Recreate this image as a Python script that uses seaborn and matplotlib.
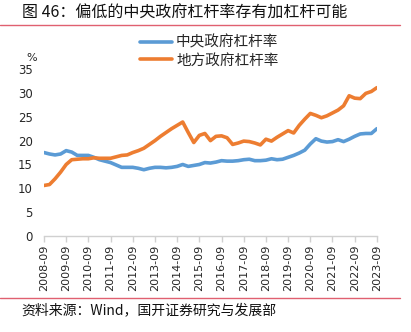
import numpy as np
import pandas as pd
import matplotlib
matplotlib.use("Agg")
import matplotlib.pyplot as plt
import seaborn as sns
from matplotlib.lines import Line2D

sns.set_style("white")
plt.rcParams['font.family'] = ['Noto Sans CJK SC', 'DejaVu Sans']

years = list(range(2008, 2024))
quarters = []
for y in range(2008, 2024):
    for m in ["03", "06", "09", "12"]:
        quarters.append(f"{y}-{m}")
quarters = quarters[quarters.index("2008-09"):quarters.index("2023-09") + 1]
tick_labels = [f"{y}-09" for y in years]

central = [17.5, 17.2, 17.0, 17.2, 17.9, 17.6, 16.9, 16.9, 16.9, 16.5,
           16.0, 15.7, 15.4, 14.9, 14.4, 14.4, 14.4, 14.2, 13.9, 14.2,
           14.4, 14.4, 14.3, 14.4, 14.6, 15.0, 14.6, 14.8, 15.0, 15.4,
           15.3, 15.5, 15.8, 15.7, 15.7, 15.8, 16.0, 16.1, 15.8, 15.8,
           15.9, 16.2, 16.0, 16.1, 16.5, 16.9, 17.4, 18.0, 19.3, 20.4,
           19.9, 19.7, 19.8, 20.2, 19.8, 20.3, 20.9, 21.4, 21.5, 21.5,
           22.5]
local = [10.6, 10.8, 12.0, 13.4, 15.0, 16.0, 16.1, 16.2, 16.2, 16.4,
         16.3, 16.3, 16.3, 16.6, 16.9, 17.0, 17.5, 17.9, 18.4, 19.2,
         20.0, 20.9, 21.7, 22.5, 23.2, 23.9, 21.7, 19.6, 21.1, 21.5,
         20.0, 20.9, 21.0, 20.6, 19.2, 19.5, 19.9, 19.8, 19.5, 19.1,
         20.3, 19.9, 20.7, 21.4, 22.1, 21.6, 23.2, 24.5, 25.7, 25.3,
         24.8, 25.2, 25.8, 26.4, 27.3, 29.4, 28.9, 28.8, 29.9, 30.3,
         31.1]
series_names = ["中央政府杠杆率", "地方政府杠杆率"]
colors = ["#5B9BD5", "#ED7D31"]

n = len(quarters)
df = pd.DataFrame({
    "idx": list(range(n)) * 2,
    "value": central + local,
    "series": [series_names[0]] * n + [series_names[1]] * n,
})

fig = plt.figure(figsize=(4.11, 3.32), dpi=100)
ax = fig.add_axes([0.107, 0.289, 0.81, 0.503])
sns.lineplot(data=df, x="idx", y="value", hue="series", palette=colors,
             linewidth=2.6, ax=ax, legend=False)

ax.set_xlim(0, n - 1)
ax.set_ylim(0, 35)
ax.set_yticks(range(0, 36, 5))
ax.set_xticks([quarters.index(t) for t in tick_labels])
ax.set_xticklabels(tick_labels, rotation=90, fontsize=8, family='DejaVu Sans')
ax.set_yticklabels([str(v) for v in range(0, 36, 5)], fontsize=8.5, family='DejaVu Sans')
ax.set_xlabel("")
ax.set_ylabel("")
for s in ["top", "right", "left"]:
    ax.spines[s].set_visible(False)
ax.spines["bottom"].set_color("#D0D0D0")
ax.spines["bottom"].set_linewidth(1.0)
ax.tick_params(axis="x", length=4, color="#D0D0D0", width=1, pad=2, direction="out", bottom=True)
ax.tick_params(axis="y", length=0, pad=8)
ax.grid(False)

ax.text(-0.02, 1.035, "%", transform=ax.transAxes, fontsize=8, ha="right", va="bottom", family='DejaVu Sans')

handles = [Line2D([0], [0], color=c, lw=2.6) for c in colors]
fig.legend(handles, series_names, loc="upper left", bbox_to_anchor=(0.322, 0.915),
           frameon=False, fontsize=10.5, handlelength=2.2, handletextpad=0.3,
           labelspacing=0.25, borderpad=0)

fig.text(0.053, 0.96, "图 46：偏低的中央政府杠杆率存有加杠杆可能", fontsize=11.5,
         ha="left", va="center", color="#111111")
fig.add_artist(Line2D([0.0, 0.973], [0.926, 0.926], color="#E06070", lw=1.0, transform=fig.transFigure))
fig.add_artist(Line2D([0.0, 0.973], [0.103, 0.103], color="#E06070", lw=1.0, transform=fig.transFigure))
fig.text(0.053, 0.066, "资料来源：Wind，国开证券研究与发展部", fontsize=10,
         ha="left", va="center", color="#111111")

fig.savefig("out.png", dpi=100)
